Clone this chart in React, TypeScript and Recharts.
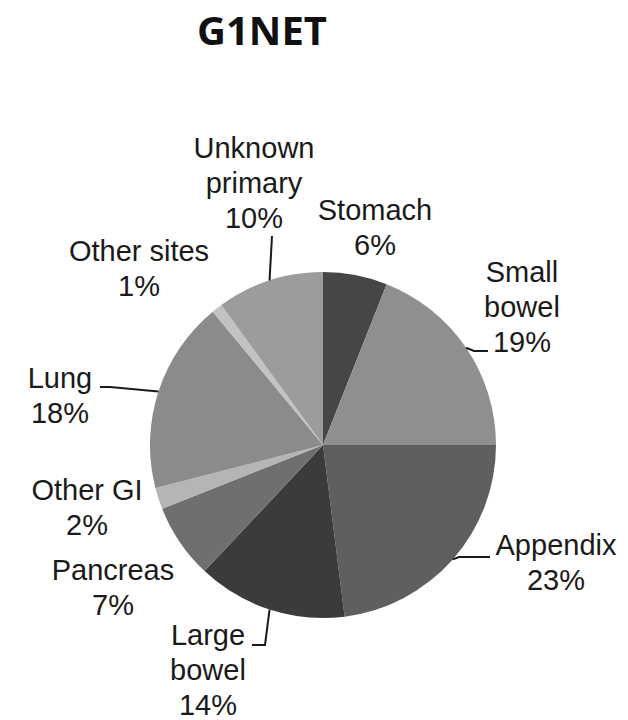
import React from 'react';
import { PieChart, Pie, Cell } from 'recharts';

const categories = ['Stomach', 'Small bowel', 'Appendix', 'Large bowel', 'Pancreas', 'Other GI', 'Lung', 'Other sites', 'Unknown primary'];
const values = [6, 19, 23, 14, 7, 2, 18, 1, 10];
const colors = ['#464646', '#8f8f8f', '#5f5f5f', '#3b3b3b', '#6f6f6f', '#b5b5b5', '#8b8b8b', '#c2c2c2', '#9c9c9c'];
const wrapped = new Set(['Small bowel', 'Large bowel', 'Unknown primary']);

const data = categories.map((name, i) => ({ name, value: values[i] }));

// label layout: text center x, first baseline y, leader line bend points (absolute chart coords)
const labelLayout = [
  { x: 375, y: 220, leader: null },
  { x: 522, y: 282, leader: [[474, 351], [488, 351]] },
  { x: 556, y: 555, leader: [[459, 557], [490, 557]] },
  { x: 208, y: 645, leader: [[265, 645], [252, 645]] },
  { x: 113, y: 580, leader: null },
  { x: 87, y: 500, leader: null },
  { x: 60, y: 388, leader: [[110, 387], [100, 387]] },
  { x: 139, y: 261, leader: null },
  { x: 254, y: 158, leader: [[272, 236]] },
];

const RADIAN = Math.PI / 180;
const LINE_H = 35;

const renderLabel = (props: any) => {
  const { cx, cy, midAngle, outerRadius, index, name, value } = props;
  const lay = labelLayout[index];
  const lines = wrapped.has(name) ? name.split(' ') : [name];
  lines.push(`${value}%`);
  const ex = cx + outerRadius * Math.cos(-midAngle * RADIAN);
  const ey = cy + outerRadius * Math.sin(-midAngle * RADIAN);
  return (
    <g key={`lbl-${index}`}>
      {lay.leader && (
        <polyline
          points={[[ex, ey], ...lay.leader].map((p) => p.join(',')).join(' ')}
          fill="none"
          stroke="#1a1a1a"
          strokeWidth={2}
        />
      )}
      <text
        x={lay.x}
        y={lay.y}
        textAnchor="middle"
        fontFamily="'Liberation Sans', Arial, sans-serif"
        fontSize={29}
        fill="#1a1a1a"
      >
        {lines.map((l: string, i: number) => (
          <tspan key={i} x={lay.x} y={lay.y + i * LINE_H}>
            {l}
          </tspan>
        ))}
      </text>
    </g>
  );
};

export default function App() {
  return (
    <div style={{ position: 'absolute', left: 0, top: 0, width: 628, height: 720, background: '#fff' }}>
      <PieChart width={628} height={720} margin={{ top: 0, right: 0, bottom: 0, left: 0 }}>
        <Pie
          data={data}
          dataKey="value"
          nameKey="name"
          cx={323}
          cy={445}
          outerRadius={173}
          startAngle={90}
          endAngle={-270}
          stroke="none"
          isAnimationActive={false}
          label={renderLabel}
          labelLine={false}
        >
          {data.map((d, i) => (
            <Cell key={d.name} fill={colors[i]} />
          ))}
        </Pie>
      </PieChart>
      <svg width={628} height={80} style={{ position: 'absolute', left: 0, top: 0 }}>
        <text
          x={262}
          y={45}
          textAnchor="middle"
          fontFamily="'Open Sans', sans-serif"
          fontWeight="bold"
          fontSize={40}
          fill="#111"
        >
          G1NET
        </text>
      </svg>
    </div>
  );
}
